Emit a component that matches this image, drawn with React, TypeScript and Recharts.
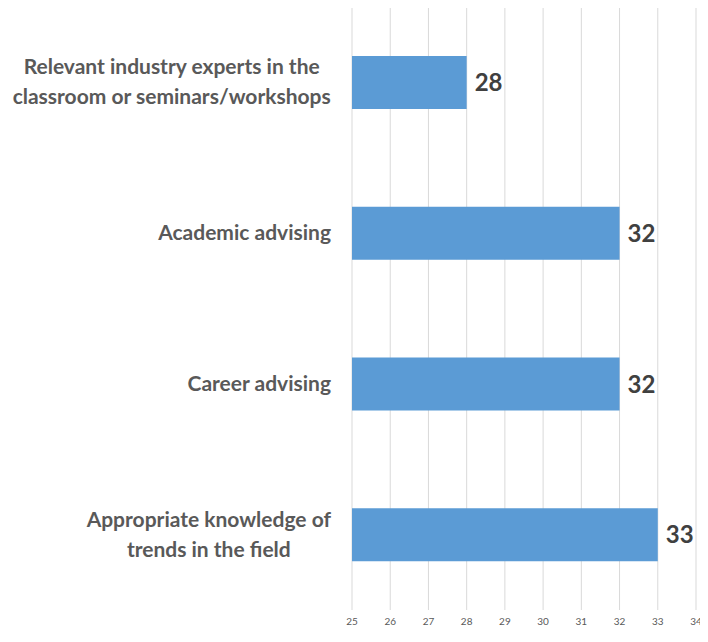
import React from "react";
import { BarChart, Bar, XAxis, YAxis, CartesianGrid, LabelList } from "recharts";

const categoryLines: string[][] = [
  ["Relevant industry experts in the", "classroom or seminars/workshops"],
  ["Academic advising"],
  ["Career advising"],
  ["Appropriate knowledge of", "trends in the field"]
];
const values = [28, 32, 32, 33];
const xTicks = [25, 26, 27, 28, 29, 30, 31, 32, 33, 34];

const data = categoryLines.map((lines, i) => ({
  name: lines.join(" "),
  value: values[i]
}));

const FONT = "Lato, 'Open Sans', sans-serif";
const LABEL_SIZE = 21;

// measure the widest line so wrapped labels can be centred like Excel does
let ctx: CanvasRenderingContext2D | null = null;
function textWidth(s: string) {
  if (!ctx) ctx = document.createElement("canvas").getContext("2d");
  if (!ctx) return s.length * LABEL_SIZE * 0.5;
  ctx.font = `700 ${LABEL_SIZE}px Lato`;
  return ctx.measureText(s).width;
}

function CategoryTick(props: any) {
  const { x, y, payload } = props;
  const lines = categoryLines[payload.index] ?? [payload.value];
  const lineHeight = 30;
  const right = x - 13;
  const multi = lines.length > 1;
  const maxW = Math.max(...lines.map(textWidth));
  const ax = multi ? right - maxW / 2 : right;
  const startDy = -((lines.length - 1) * lineHeight) / 2;
  return (
    <text
      x={ax}
      y={y}
      textAnchor={multi ? "middle" : "end"}
      fill="#595959"
      fontFamily={FONT}
      fontWeight={700}
      fontSize={LABEL_SIZE}
    >
      {lines.map((line, i) => (
        <tspan key={i} x={ax} dy={i === 0 ? startDy + 7 : lineHeight}>
          {line}
        </tspan>
      ))}
    </text>
  );
}

export default function App() {
  return (
    <div style={{ margin: -8, background: "#fff", width: 708, height: 642 }}>
      <BarChart
        width={708}
        height={642}
        data={data}
        layout="vertical"
        margin={{ top: 7, right: 12, bottom: 0, left: 0 }}
      >
        <CartesianGrid vertical horizontal={false} stroke="#d9d9d9" />
        <XAxis
          type="number"
          domain={[25, 34]}
          ticks={xTicks}
          allowDataOverflow
          axisLine={false}
          tickLine={false}
          height={32}
          tick={{ fontSize: 10, fill: "#595959", fontFamily: FONT }}
        />
        <YAxis
          type="category"
          dataKey="name"
          width={352}
          axisLine={false}
          tickLine={false}
          tick={<CategoryTick />}
          interval={0}
        />
        <Bar dataKey="value" fill="#5b9bd5" barSize={53} isAnimationActive={false}>
          <LabelList
            dataKey="value"
            position="right"
            offset={8}
            fill="#404040"
            fontSize={24}
            fontWeight={700}
            fontFamily={FONT}
          />
        </Bar>
      </BarChart>
    </div>
  );
}
